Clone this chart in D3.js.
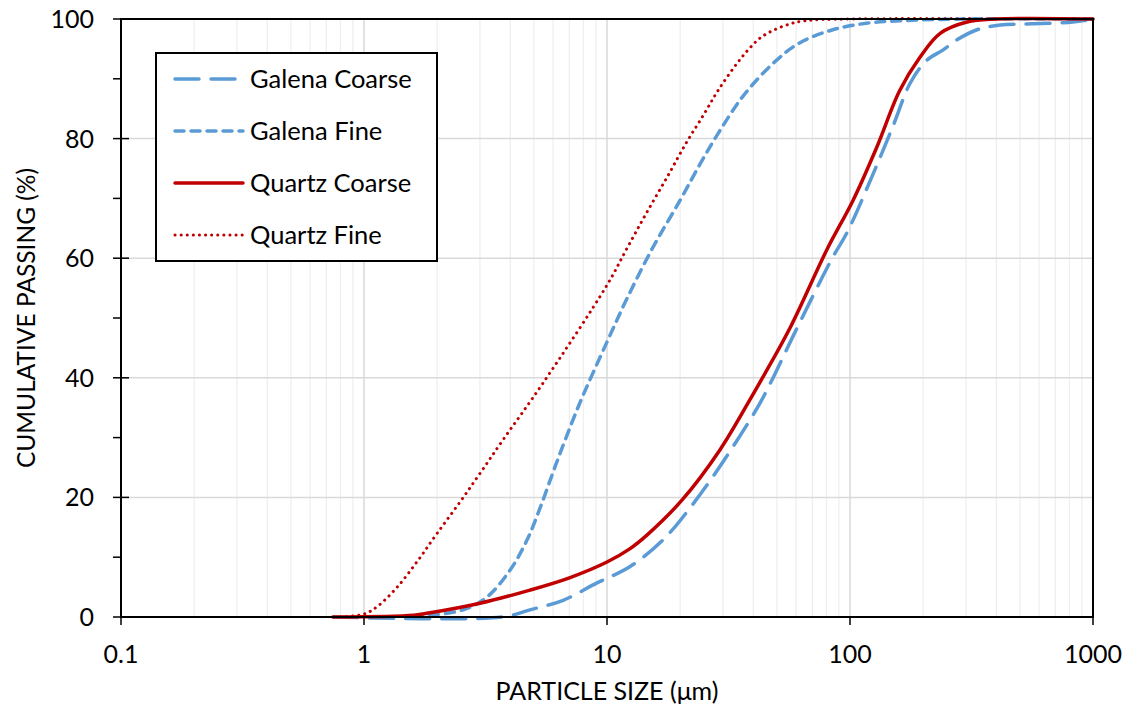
<!DOCTYPE html>
<html><head><meta charset="utf-8">
<script src="https://cdn.jsdelivr.net/npm/d3@7"></script>
<style>body{margin:0;background:#fff}svg{display:block}text{font-family:Lato,"Open Sans",sans-serif;fill:#000}</style>
</head><body>
<svg id="c" width="1130" height="716"></svg>
<script>
const seriesNames = ["Galena Coarse","Galena Fine","Quartz Coarse","Quartz Fine"];
const galenaCoarseSize = [0.75,3.7,4.82,6.6,9.1,12.4,17.0,22.7,31,41.7,46.9,60,85,97,123,150,177,207,241,275,333,415,566,826,1000];
const galenaCoarsePass = [0,0,1.2,2.8,5.7,8.4,12.9,19,26.8,35.1,39,48,60.2,64.2,73.6,82,89.3,93.1,94.8,96.5,98.2,99,99.2,99.5,100];
const galenaFineSize = [1.6,2.56,3.2,4.0,4.69,5.3,6.2,7.5,8.26,10,12,15.4,20,24.2,28.6,36.3,48.3,62,85,117,160,300,1000];
const galenaFinePass = [0,1.2,3.3,7.9,12.9,18.2,25.8,34.5,38.5,46,53,61.7,69.7,75.8,80.8,87.1,92.6,96,98.2,99.3,99.7,100,100];
const quartzCoarseSize = [0.745,1.6,1.87,3.0,4.82,7.05,10,12.4,14.6,20.3,29.1,38.7,43.8,56.9,80.5,103,129,160,194,235,303,400,1000];
const quartzCoarsePass = [0,0.3,0.7,2.3,4.5,6.6,9.2,11.4,13.7,19.5,27.9,36.3,40.1,48.5,61.5,69.7,78.6,88,93.6,97.6,99.5,100,100];
const quartzFineSize = [0.8,1.0,1.13,1.37,1.67,2.0,2.48,3.0,3.73,5.45,10,12.1,14.6,17.7,21.2,25,28.8,34.6,38.4,42.6,48.3,56.9,65,100,1000];
const quartzFinePass = [0,0.5,1.7,5,9.5,14,19.2,24,29.6,39.1,55.5,61.7,67.7,73.6,79.3,84,88.2,92.8,95,96.8,98.1,99.2,99.7,100,100];
const xTickValues = [0.1,1,10,100,1000];
const xTickLabels = ["0.1","1","10","100","1000"];
const yTickValues = [0,20,40,60,80,100];

const svg = d3.select("#c");
const L=121,R=1093,T=19,B=617;
const x = d3.scaleLog().domain([0.1,1000]).range([L,R]);
const y = d3.scaleLinear().domain([0,100]).range([B,T]);
const blue="#5B9BD5", red="#C00000";

// gridlines
const minors=[];
for(let d=0.1; d<1000; d*=10){ for(let k=2;k<=9;k++) minors.push(+(d*k).toPrecision(3)); }
svg.append("g").selectAll("line").data(minors).join("line")
  .attr("x1",d=>x(d)).attr("x2",d=>x(d)).attr("y1",T).attr("y2",B)
  .attr("stroke","#EFEFEF").attr("stroke-width",1.3);
svg.append("g").selectAll("line").data([1,10,100]).join("line")
  .attr("x1",d=>x(d)).attr("x2",d=>x(d)).attr("y1",T).attr("y2",B)
  .attr("stroke","#D9D9D9").attr("stroke-width",1.5);
svg.append("g").selectAll("line").data([20,40,60,80]).join("line")
  .attr("x1",L).attr("x2",R).attr("y1",d=>y(d)).attr("y2",d=>y(d))
  .attr("stroke","#D9D9D9").attr("stroke-width",1.5);

// series
const line = d3.line().x(d=>x(d[0])).y(d=>Math.max(T,y(d[1]))).curve(d3.curveCatmullRom.alpha(0.5));
const zip=(a,b)=>a.map((v,i)=>[v,b[i]]);
const series=[
  {name:seriesNames[0], data:zip(galenaCoarseSize,galenaCoarsePass), color:blue, dash:"24,12", w:3.5, cap:"round"},
  {name:seriesNames[1], data:zip(galenaFineSize,galenaFinePass), color:blue, dash:"9,7", w:3.5, cap:"round"},
  {name:seriesNames[2], data:zip(quartzCoarseSize,quartzCoarsePass), color:red, dash:null, w:3.5, cap:"round"},
  {name:seriesNames[3], data:zip(quartzFineSize,quartzFinePass), color:red, dash:"0.1,6", w:3, cap:"round"}
];
const order=[3,1,0,2];
order.forEach(i=>{const s=series[i];
  svg.append("path").attr("d",line(s.data)).attr("fill","none").attr("stroke",s.color)
   .attr("stroke-width",s.w).attr("stroke-linecap",s.cap).attr("stroke-dasharray",s.dash);
});

// frame
svg.append("rect").attr("x",L).attr("y",T).attr("width",R-L).attr("height",B-T)
  .attr("fill","none").attr("stroke","#000").attr("stroke-width",2);

// y axis ticks
const yMinor=[10,30,50,70,90];
svg.append("g").selectAll("line").data(yMinor).join("line")
  .attr("x1",L-8).attr("x2",L).attr("y1",d=>y(d)).attr("y2",d=>y(d)).attr("stroke","#000").attr("stroke-width",1.5);
svg.append("g").selectAll("line").data(yTickValues).join("line")
  .attr("x1",L-8).attr("x2",L+8).attr("y1",d=>y(d)).attr("y2",d=>y(d)).attr("stroke","#000").attr("stroke-width",1.5);
svg.append("g").selectAll("text").data(yTickValues).join("text")
  .attr("x",94).attr("y",d=>y(d)+9).attr("text-anchor","end").attr("font-size",25).text(d=>d);

// x axis ticks
svg.append("g").selectAll("line").data(xTickValues).join("line")
  .attr("x1",d=>x(d)).attr("x2",d=>x(d)).attr("y1",B).attr("y2",B+8).attr("stroke","#000").attr("stroke-width",1.5);
svg.append("g").selectAll("text").data(xTickValues).join("text")
  .attr("x",d=>x(d)).attr("y",663).attr("text-anchor","middle").attr("font-size",25).text((d,i)=>xTickLabels[i]);

svg.append("text").attr("x",607).attr("y",700).attr("text-anchor","middle").attr("font-size",25).text("PARTICLE SIZE (μm)");
svg.append("text").attr("transform","translate(35,318) rotate(-90)").attr("text-anchor","middle").attr("font-size",24.5).text("CUMULATIVE PASSING (%)");

// legend
const lg=svg.append("g");
lg.append("rect").attr("x",156).attr("y",53).attr("width",281).attr("height",208).attr("fill","#fff").attr("stroke","#000").attr("stroke-width",2);
series.forEach((s,i)=>{
  const yy=79+i*52;
  lg.append("line").attr("x1",175).attr("x2",243).attr("y1",yy).attr("y2",yy).attr("stroke",s.color)
    .attr("stroke-width",s.w).attr("stroke-linecap",s.cap).attr("stroke-dasharray",s.dash);
  lg.append("text").attr("x",250).attr("y",yy+8.5).attr("font-size",25.5).text(s.name);
});
</script>
</body></html>
